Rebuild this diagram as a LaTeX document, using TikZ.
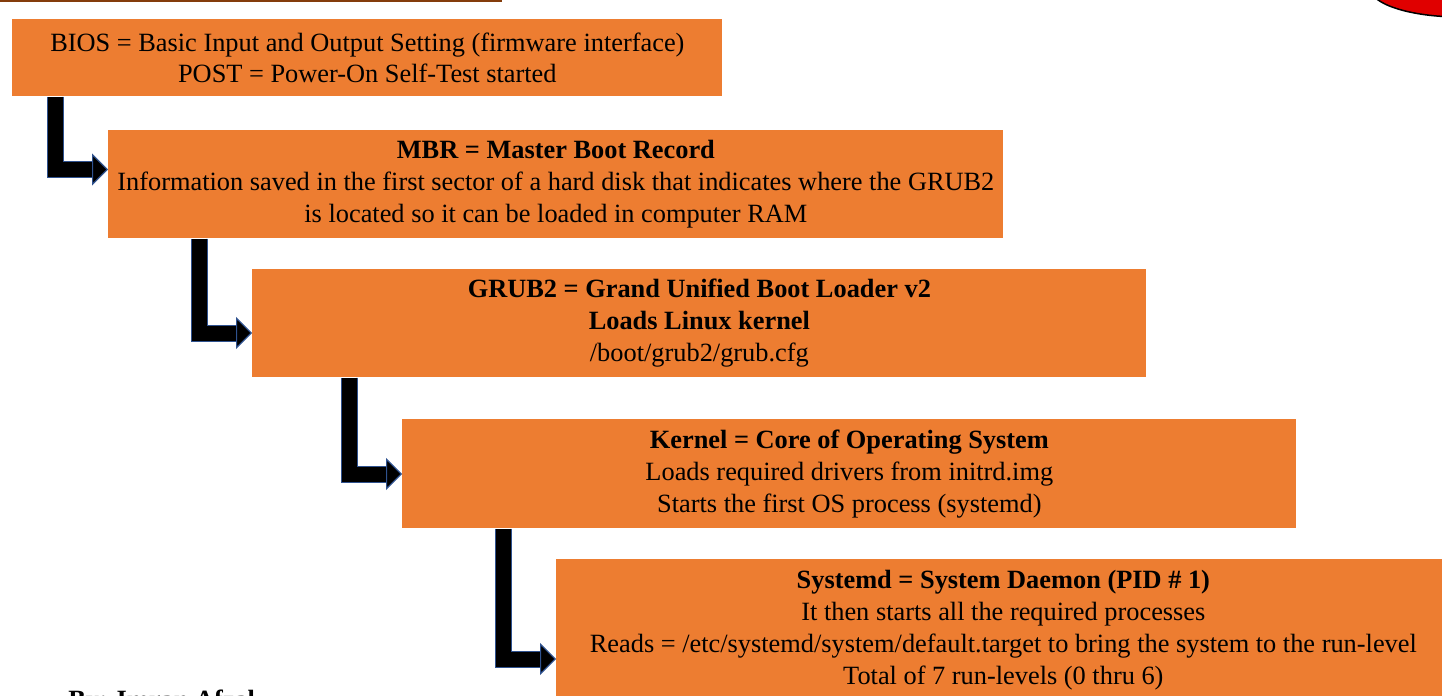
\documentclass[tikz,border=0pt]{standalone}
\usepackage{fontspec}
\setmainfont{Liberation Serif}
\usetikzlibrary{arrows.meta}
\definecolor{stagefill}{HTML}{ED7D31}
\definecolor{arrowedge}{HTML}{2F528F}
\definecolor{rulebrown}{HTML}{843C0C}
\definecolor{badgered}{HTML}{E00000}

\begin{document}
\begin{tikzpicture}
		
		\tikzset{stage/.style = {shape=rectangle,fill=stagefill,anchor=north west,inner sep=0pt,align=center,font=\fontsize{15}{18.2}\selectfont}}
		\tikzset{flow/.style = {line width=0.3cm,preaction={arrows=-,draw=arrowedge,line width=0.34cm,shorten >=0.25cm},-{Triangle[length=0.32cm,width=0.64cm,color=arrowedge,fill=black,line width=0.7pt]}}}
		
		\useasboundingbox (0,0) rectangle (28.84,-13.92);
		\clip (0,0) rectangle (28.84,-13.92);
		
		\draw[rulebrown,line width=0.04cm] (0,-0.02) -- (10.04,-0.02);
		\draw[fill=badgered,line width=0.03cm] (29.2,0.24) ellipse [x radius=1.8cm,y radius=0.58cm];
		
		\node[stage,minimum width=14.2cm,minimum height=1.54cm] (bios) at (0.24,-0.38) {BIOS = Basic Input and Output Setting (firmware interface)\\POST = Power-On Self-Test started};
		\node[stage,minimum width=17.9cm,minimum height=2.16cm] (mbr) at (2.16,-2.6) {\textbf{MBR = Master Boot Record}\\Information saved in the first sector of a hard disk that indicates where the GRUB2\\is located so it can be loaded in computer RAM};
		\node[stage,minimum width=17.88cm,minimum height=2.16cm] (grub) at (5.04,-5.38) {\textbf{GRUB2 = Grand Unified Boot Loader v2}\\\textbf{Loads Linux kernel}\\/boot/grub2/grub.cfg};
		\node[stage,minimum width=17.88cm,minimum height=2.18cm] (kernel) at (8.04,-8.38) {\textbf{Kernel = Core of Operating System}\\Loads required drivers from initrd.img\\Starts the first OS process (systemd)};
		\node[stage,minimum width=17.88cm,minimum height=2.82cm] (systemd) at (11.12,-11.18) {\textbf{Systemd = System Daemon (PID \# 1)}\\It then starts all the required processes\\Reads = /etc/systemd/system/default.target to bring the system to the run-level\\Total of 7 run-levels (0 thru 6)};
		
		\node[anchor=base west,inner sep=0pt,font=\fontsize{15}{18}\selectfont\bfseries] (byline) at (1.36,-14.16) {By: Imran Afzal};
		
		\coordinate (bend1) at (1.1,-3.39);
		\coordinate (bend2) at (3.99,-6.66);
		\coordinate (bend3) at (6.99,-9.48);
		\coordinate (bend4) at (10.07,-13.18);
		
		\draw[flow] (bios.south -| bend1) |- (mbr.west |- bend1);
		\draw[flow] (mbr.south -| bend2) |- (grub.west |- bend2);
		\draw[flow] (grub.south -| bend3) |- (kernel.west |- bend3);
		\draw[flow] (kernel.south -| bend4) |- (systemd.west |- bend4);
		
\end{tikzpicture}
\end{document}
